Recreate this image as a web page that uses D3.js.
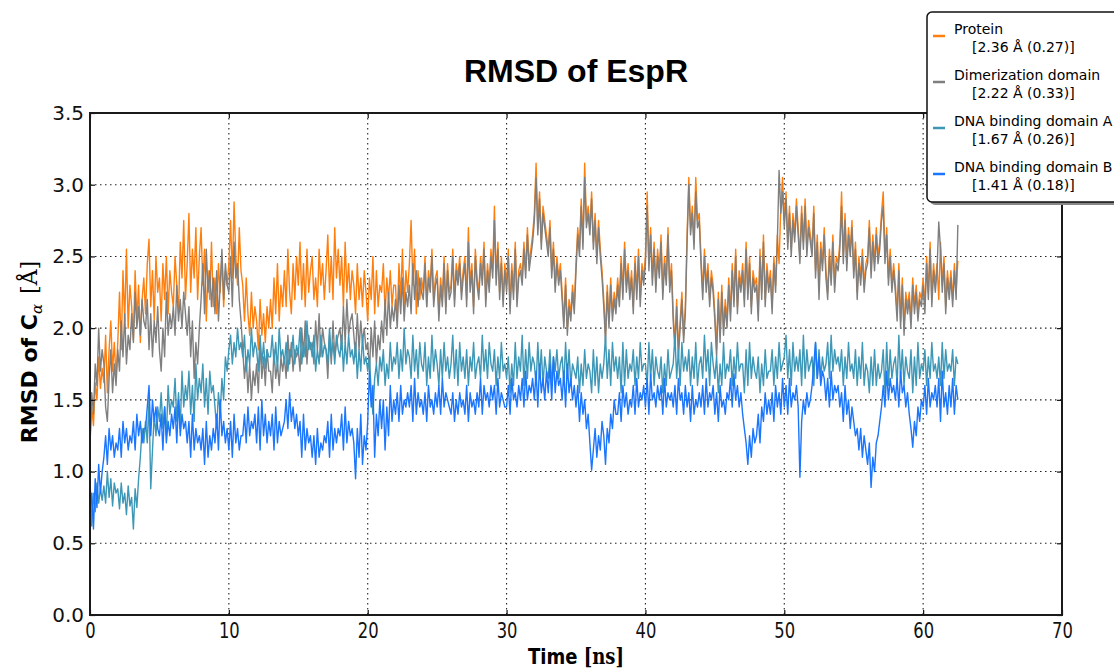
<!DOCTYPE html>
<meta charset="utf-8">
<style>
body { margin: 0; background: #fff; }
.tick text { fill: #111; }
.grid line { stroke: #222; stroke-width: 1.1px; stroke-dasharray: 1.5,3.5; }
.series { fill: none; stroke-width: 1.4px; stroke-linejoin: round; }
</style>
<body>
<script src="https://d3js.org/d3.v7.min.js"></script>
<script>

var timeStep = 0.125;

var protein = [
	1.20, 1.45, 1.32, 1.62, 1.50, 1.80, 1.58, 1.72,
	1.62, 1.95, 1.55, 1.85, 2.05, 1.70, 1.90, 1.65,
	1.90, 2.25, 1.85, 2.40, 2.05, 2.55, 2.00, 2.30,
	2.15, 1.92, 2.40, 2.05, 2.30, 1.90, 2.20, 2.35,
	2.10, 2.45, 2.62, 2.15, 2.40, 2.05, 2.50, 2.25,
	2.35, 2.05, 2.45, 2.20, 2.50, 2.10, 2.40, 2.25,
	2.15, 2.50, 2.30, 2.10, 2.60, 2.35, 2.75, 2.20,
	2.45, 2.80, 2.25, 2.55, 2.35, 2.70, 2.20, 2.50,
	2.70, 2.30, 2.55, 2.05, 2.40, 2.20, 2.60, 2.15,
	2.35, 2.10, 2.45, 2.25, 2.50, 2.15, 2.40, 2.30,
	2.45, 2.75, 2.35, 2.88, 2.50, 2.30, 2.70, 2.40,
	2.30, 2.05, 2.35, 2.10, 1.95, 2.25, 2.00, 2.15,
	2.05, 1.85, 2.20, 1.95, 2.10, 1.90, 2.15, 2.00,
	2.20, 2.00, 2.35, 2.10, 2.45, 2.05, 2.30, 2.15,
	2.40, 2.15, 2.55, 2.25, 2.10, 2.45, 2.20, 2.50,
	2.30, 2.60, 2.20, 2.45, 2.15, 2.55, 2.25, 2.40,
	2.50, 2.20, 2.35, 2.15, 2.55, 2.30, 2.45, 2.20,
	2.40, 2.65, 2.25, 2.50, 2.20, 2.70, 2.35, 2.55,
	2.30, 2.50, 2.15, 2.60, 2.25, 2.45, 2.20, 2.40,
	2.30, 2.10, 2.45, 2.20, 2.35, 2.15, 2.40, 2.25,
	2.05, 2.35, 2.20, 2.50, 2.10, 2.40, 2.15, 2.30,
	2.25, 2.45, 2.10, 2.35, 2.20, 2.40, 2.15, 2.30,
	2.30, 2.05, 2.45, 2.20, 2.55, 2.15, 2.40, 2.25,
	2.45, 2.75, 2.30, 2.55, 2.10, 2.40, 2.20, 2.35,
	2.25, 2.50, 2.15, 2.40, 2.30, 2.55, 2.20, 2.35,
	2.40, 2.10, 2.35, 2.20, 2.50, 2.15, 2.45, 2.25,
	2.30, 2.55, 2.20, 2.45, 2.35, 2.50, 2.25, 2.40,
	2.50, 2.20, 2.70, 2.30, 2.45, 2.15, 2.55, 2.35,
	2.25, 2.50, 2.35, 2.60, 2.20, 2.45, 2.30, 2.55,
	2.40, 2.85, 2.35, 2.60, 2.25, 2.50, 2.20, 2.45,
	2.30, 2.55, 2.15, 2.45, 2.25, 2.60, 2.20, 2.40,
	2.45, 2.35, 2.60, 2.40, 2.70, 2.45, 2.55, 2.65,
	2.80, 3.15, 2.70, 2.95, 2.60, 2.85, 2.75, 2.65,
	2.55, 2.75, 2.40, 2.60, 2.30, 2.50, 2.35, 2.45,
	2.25, 2.05, 2.35, 2.00, 2.20, 2.10, 2.30, 2.15,
	2.45, 2.70, 2.55, 2.90, 2.60, 3.15, 2.75, 2.85,
	2.70, 2.95, 2.60, 2.80, 2.50, 2.75, 2.55, 2.40,
	2.20, 1.95, 2.30, 2.05, 2.35, 2.10, 2.25, 2.15,
	2.35, 2.20, 2.50, 2.25, 2.60, 2.30, 2.45, 2.25,
	2.40, 2.15, 2.50, 2.25, 2.55, 2.20, 2.45, 2.35,
	2.50, 2.95, 2.45, 2.70, 2.35, 2.60, 2.30, 2.55,
	2.40, 2.65, 2.25, 2.50, 2.35, 2.70, 2.30, 2.45,
	2.10, 1.90, 2.20, 1.85, 2.05, 2.25, 1.95, 2.15,
	2.65, 3.05, 2.70, 2.85, 2.60, 3.05, 2.75, 2.80,
	2.50, 2.25, 2.55, 2.30, 2.45, 2.20, 2.40, 2.30,
	2.10, 1.85, 2.25, 1.95, 2.30, 2.00, 2.20, 2.05,
	2.35, 2.10, 2.45, 2.20, 2.55, 2.15, 2.40, 2.30,
	2.45, 2.20, 2.60, 2.25, 2.50, 2.15, 2.40, 2.30,
	2.35, 2.10, 2.55, 2.25, 2.65, 2.20, 2.45, 2.30,
	2.40, 2.15, 2.50, 2.30, 2.65, 2.45, 2.85, 3.05,
	2.75, 2.95, 2.60, 2.85, 2.55, 2.80, 2.65, 2.90,
	2.70, 2.50, 2.85, 2.60, 2.90, 2.55, 2.75, 2.65,
	2.55, 2.85, 2.40, 2.65, 2.30, 2.60, 2.45, 2.70,
	2.40, 2.25, 2.55, 2.35, 2.65, 2.30, 2.50, 2.45,
	2.60, 2.95, 2.50, 2.80, 2.45, 2.70, 2.55, 2.75,
	2.40, 2.60, 2.25, 2.50, 2.35, 2.55, 2.30, 2.45,
	2.50, 2.75, 2.40, 2.65, 2.45, 2.70, 2.50, 2.60,
	2.80, 2.95, 2.50, 2.70, 2.35, 2.55, 2.30, 2.45,
	2.30, 2.10, 2.45, 2.05, 2.35, 2.00, 2.25, 2.15,
	2.25, 2.05, 2.35, 2.15, 2.30, 2.10, 2.25, 2.20,
	2.35, 2.15, 2.50, 2.25, 2.60, 2.20, 2.45, 2.30,
	2.45, 2.20, 2.60, 2.30, 2.50, 2.15, 2.40, 2.25,
	2.40, 2.20, 2.45, 2.25, 2.47
];

var dimerization = [
	1.20, 1.55, 1.40, 1.75, 1.60, 2.00, 1.70, 1.85,
	1.75, 1.45, 1.35, 1.65, 1.85, 1.55, 1.75, 1.60,
	1.85, 1.70, 2.05, 1.80, 2.10, 1.75, 1.95, 1.85,
	2.10, 1.90, 2.25, 2.00, 2.15, 1.95, 2.20, 2.05,
	2.00, 2.20, 1.85, 2.10, 1.80, 2.05, 1.90, 2.15,
	1.85, 1.70, 2.00, 1.80, 2.25, 1.95, 2.10, 2.00,
	2.15, 1.95, 2.30, 2.05, 2.20, 2.00, 2.25, 2.10,
	1.95, 2.15, 1.80, 2.05, 1.65, 1.90, 1.75, 2.00,
	2.20, 2.45, 2.10, 2.55, 2.25, 2.40, 2.15, 2.35,
	2.10, 2.40, 2.05, 2.30, 2.55, 2.20, 2.45, 2.30,
	2.25, 2.50, 2.15, 2.60, 2.35, 2.45, 2.20, 2.05,
	1.85, 1.65, 1.80, 1.55, 1.75, 1.50, 1.70, 1.60,
	1.75, 1.55, 1.90, 1.65, 1.80, 1.60, 1.85, 1.70,
	1.70, 1.55, 1.85, 1.65, 1.75, 1.60, 1.80, 1.70,
	1.80, 1.65, 1.95, 1.75, 1.90, 1.70, 1.85, 1.80,
	1.85, 1.70, 2.00, 1.80, 2.05, 1.75, 1.95, 1.85,
	1.90, 1.75, 2.05, 1.85, 2.10, 1.80, 2.00, 1.90,
	1.85, 1.65, 1.95, 1.75, 2.05, 1.80, 1.90, 1.95,
	2.00, 1.85, 2.15, 1.90, 2.20, 1.95, 2.05, 2.10,
	1.95, 1.80, 2.10, 1.85, 2.05, 1.90, 2.00, 1.85,
	1.90, 1.70, 2.00, 1.80, 2.05, 1.75, 1.95, 1.85,
	2.05, 1.90, 2.20, 1.95, 2.25, 2.00, 2.15, 2.05,
	2.20, 2.00, 2.30, 2.10, 2.35, 2.05, 2.25, 2.15,
	2.30, 2.10, 2.45, 2.20, 2.40, 2.15, 2.35, 2.25,
	2.20, 2.45, 2.15, 2.35, 2.25, 2.50, 2.15, 2.30,
	2.35, 2.05, 2.30, 2.15, 2.45, 2.10, 2.40, 2.20,
	2.25, 2.50, 2.15, 2.40, 2.30, 2.45, 2.20, 2.35,
	2.45, 2.15, 2.60, 2.25, 2.40, 2.10, 2.50, 2.30,
	2.20, 2.45, 2.30, 2.55, 2.15, 2.40, 2.25, 2.50,
	2.35, 2.75, 2.30, 2.55, 2.20, 2.45, 2.15, 2.40,
	2.25, 2.50, 2.10, 2.40, 2.20, 2.55, 2.15, 2.35,
	2.40, 2.30, 2.55, 2.35, 2.65, 2.40, 2.50, 2.60,
	2.75, 3.05, 2.65, 2.90, 2.55, 2.80, 2.70, 2.60,
	2.50, 2.70, 2.35, 2.55, 2.25, 2.45, 2.30, 2.40,
	2.20, 2.00, 2.30, 1.95, 2.15, 2.05, 2.25, 2.10,
	2.40, 2.65, 2.50, 2.85, 2.55, 3.05, 2.70, 2.80,
	2.65, 2.90, 2.55, 2.75, 2.45, 2.70, 2.50, 2.35,
	2.15, 1.90, 2.25, 2.00, 2.30, 2.05, 2.20, 2.10,
	2.30, 2.15, 2.45, 2.20, 2.55, 2.25, 2.40, 2.20,
	2.35, 2.10, 2.45, 2.20, 2.50, 2.15, 2.40, 2.30,
	2.45, 2.85, 2.40, 2.65, 2.30, 2.55, 2.25, 2.50,
	2.35, 2.60, 2.20, 2.45, 2.30, 2.65, 2.25, 2.40,
	2.05, 1.85, 2.15, 1.80, 2.00, 2.20, 1.90, 2.10,
	2.60, 3.00, 2.65, 2.80, 2.55, 2.95, 2.70, 2.75,
	2.45, 2.20, 2.50, 2.25, 2.40, 2.15, 2.35, 2.25,
	2.05, 1.80, 2.20, 1.90, 2.25, 1.95, 2.15, 2.00,
	2.30, 2.05, 2.40, 2.15, 2.50, 2.10, 2.35, 2.25,
	2.40, 2.15, 2.55, 2.20, 2.45, 2.10, 2.35, 2.25,
	2.30, 2.05, 2.50, 2.20, 2.60, 2.15, 2.40, 2.25,
	2.35, 2.10, 2.45, 2.25, 2.60, 3.10, 2.80, 2.95,
	2.70, 2.90, 2.55, 2.80, 2.50, 2.75, 2.60, 2.85,
	2.65, 2.45, 2.80, 2.55, 2.85, 2.50, 2.70, 2.60,
	2.50, 2.80, 2.35, 2.60, 2.20, 2.55, 2.40, 2.65,
	2.35, 2.20, 2.50, 2.30, 2.60, 2.25, 2.45, 2.40,
	2.55, 2.85, 2.45, 2.75, 2.40, 2.65, 2.50, 2.70,
	2.35, 2.55, 2.20, 2.45, 2.30, 2.50, 2.25, 2.40,
	2.45, 2.70, 2.35, 2.60, 2.40, 2.65, 2.45, 2.55,
	2.75, 2.85, 2.45, 2.65, 2.30, 2.50, 2.25, 2.40,
	2.25, 2.05, 2.40, 2.00, 2.30, 1.95, 2.20, 2.10,
	2.20, 2.00, 2.30, 2.10, 2.25, 2.05, 2.20, 2.15,
	2.30, 2.10, 2.45, 2.20, 2.55, 2.15, 2.40, 2.25,
	2.40, 2.74, 2.55, 2.25, 2.45, 2.10, 2.35, 2.20,
	2.35, 2.15, 2.40, 2.20, 2.72
];

var dnaA = [
	0.95, 0.62, 0.85, 0.72, 0.92, 0.78, 0.88, 0.80,
	0.90, 0.78, 1.00, 0.82, 0.95, 0.76, 0.92, 0.85,
	0.88, 0.74, 0.92, 0.78, 0.85, 0.70, 0.90, 0.76,
	0.82, 0.60, 0.88, 0.75, 0.95, 1.10, 1.30, 1.20,
	1.35, 1.20, 1.50, 0.88, 1.15, 1.40, 1.25, 1.45,
	1.35, 1.55, 1.30, 1.45, 1.25, 1.60, 1.40, 1.50,
	1.45, 1.65, 1.35, 1.55, 1.30, 1.70, 1.45, 1.60,
	1.50, 1.70, 1.40, 1.60, 1.35, 1.75, 1.50, 1.65,
	1.55, 1.75, 1.45, 1.65, 1.40, 1.70, 1.55, 1.60,
	1.45, 1.30, 1.55, 1.40, 1.65, 1.50, 1.80, 1.70,
	1.85, 1.95, 1.75, 1.90, 1.80, 2.00, 1.85, 1.90,
	1.80, 1.95, 1.70, 1.85, 1.75, 2.00, 1.80, 1.90,
	1.85, 1.70, 1.95, 1.75, 1.90, 1.72, 1.85, 1.80,
	1.80, 1.95, 1.75, 1.90, 1.70, 2.00, 1.80, 1.85,
	1.75, 1.90, 1.70, 1.85, 1.80, 1.95, 1.75, 1.88,
	1.82, 2.00, 1.75, 1.90, 1.80, 2.05, 1.85, 1.90,
	1.80, 1.95, 1.70, 1.85, 1.75, 1.95, 1.80, 1.88,
	1.85, 1.75, 2.00, 1.80, 1.90, 1.75, 1.95, 1.85,
	1.80, 1.95, 1.70, 1.90, 1.75, 1.95, 1.80, 1.85,
	1.75, 1.90, 1.65, 1.85, 1.70, 1.95, 1.75, 1.80,
	1.70, 1.80, 1.55, 1.40, 1.65, 1.75, 1.60, 1.80,
	1.70, 1.85, 1.60, 1.75, 1.65, 1.90, 1.70, 1.80,
	1.75, 1.90, 1.65, 1.85, 1.70, 2.00, 1.75, 1.85,
	1.80, 1.65, 1.95, 1.70, 1.85, 1.65, 1.90, 1.75,
	1.70, 1.90, 1.60, 1.80, 1.65, 1.95, 1.70, 1.85,
	1.75, 1.60, 1.85, 1.65, 1.90, 1.70, 1.80, 1.65,
	1.75, 1.95, 1.65, 1.85, 1.60, 1.90, 1.70, 1.80,
	1.65, 1.85, 1.60, 1.80, 1.70, 1.90, 1.65, 1.75,
	1.80, 1.65, 1.95, 1.70, 1.85, 1.65, 1.90, 1.75,
	1.70, 1.85, 1.60, 1.80, 1.65, 1.90, 1.70, 1.75,
	1.65, 1.80, 1.55, 1.75, 1.60, 1.90, 1.65, 1.80,
	1.70, 1.95, 1.60, 1.85, 1.65, 1.90, 1.70, 1.80,
	1.75, 1.60, 1.90, 1.65, 1.85, 1.60, 1.80, 1.70,
	1.65, 1.85, 1.60, 1.80, 1.70, 1.85, 1.65, 1.75,
	1.80, 1.60, 1.90, 1.65, 1.85, 1.60, 1.75, 1.70,
	1.65, 1.80, 1.55, 1.75, 1.60, 1.85, 1.65, 1.75,
	1.70, 1.55, 1.85, 1.60, 1.80, 1.55, 1.75, 1.65,
	1.75, 1.95, 1.65, 1.85, 1.60, 1.90, 1.70, 1.80,
	1.65, 1.80, 1.55, 1.90, 1.60, 1.85, 1.65, 1.75,
	1.70, 1.85, 1.60, 1.80, 1.65, 1.90, 1.70, 1.75,
	1.75, 1.60, 1.90, 1.65, 1.85, 1.60, 1.80, 1.70,
	1.65, 1.80, 1.55, 1.75, 1.60, 1.85, 1.65, 1.70,
	1.75, 1.95, 1.65, 1.85, 1.60, 1.90, 1.70, 1.80,
	1.70, 1.85, 1.60, 1.80, 1.65, 1.90, 1.60, 1.75,
	1.80, 1.65, 1.95, 1.70, 1.85, 1.60, 1.90, 1.75,
	1.65, 1.80, 1.55, 1.75, 1.60, 1.90, 1.65, 1.75,
	1.70, 1.85, 1.60, 1.80, 1.65, 1.90, 1.70, 1.75,
	1.75, 1.55, 1.85, 1.60, 1.90, 1.65, 1.80, 1.70,
	1.65, 1.80, 1.55, 1.75, 1.60, 1.85, 1.65, 1.70,
	1.70, 1.85, 1.60, 1.80, 1.65, 1.90, 1.70, 1.75,
	1.80, 1.95, 1.65, 1.85, 1.60, 1.90, 1.70, 1.80,
	1.70, 1.85, 1.60, 1.95, 1.65, 1.85, 1.70, 1.75,
	1.80, 1.60, 1.90, 1.65, 1.85, 1.65, 1.80, 1.70,
	1.75, 1.90, 1.65, 1.95, 1.70, 1.85, 1.75, 1.80,
	1.70, 1.85, 1.60, 1.80, 1.65, 1.90, 1.70, 1.75,
	1.65, 1.85, 1.60, 1.80, 1.65, 1.90, 1.60, 1.75,
	1.70, 1.55, 1.80, 1.60, 1.85, 1.60, 1.75, 1.65,
	1.70, 1.85, 1.55, 1.90, 1.60, 1.85, 1.65, 1.75,
	1.80, 1.60, 1.95, 1.65, 1.85, 1.60, 1.80, 1.70,
	1.65, 1.85, 1.55, 1.80, 1.60, 1.90, 1.65, 1.75,
	1.70, 1.85, 1.60, 1.80, 1.65, 1.90, 1.70, 1.75,
	1.65, 1.80, 1.60, 1.90, 1.65, 1.85, 1.70, 1.75,
	1.70, 1.85, 1.60, 1.80, 1.75
];

var dnaB = [
	0.70, 0.85, 0.60, 0.95, 0.75, 1.05, 0.85, 1.00,
	1.10, 1.25, 1.05, 1.30, 1.15, 1.25, 1.10, 1.20,
	1.15, 1.30, 1.10, 1.35, 1.20, 1.30, 1.15, 1.25,
	1.20, 1.35, 1.15, 1.40, 1.25, 1.35, 1.20, 1.30,
	1.30, 1.45, 1.60, 1.25, 1.50, 1.35, 1.45, 1.30,
	1.25, 1.40, 1.15, 1.45, 1.20, 1.35, 1.25, 1.40,
	1.30, 1.45, 1.20, 1.50, 1.25, 1.40, 1.30, 1.35,
	1.20, 1.35, 1.10, 1.40, 1.15, 1.30, 1.20, 1.25,
	1.15, 1.30, 1.05, 1.35, 1.10, 1.25, 1.15, 1.30,
	1.20, 1.40, 1.15, 1.50, 1.25, 1.35, 1.20, 1.30,
	1.15, 1.35, 1.10, 1.40, 1.20, 1.30, 1.15, 1.25,
	1.25, 1.40, 1.20, 1.45, 1.25, 1.35, 1.30, 1.40,
	1.20, 1.45, 1.15, 1.50, 1.25, 1.40, 1.20, 1.35,
	1.25, 1.40, 1.15, 1.45, 1.20, 1.35, 1.25, 1.30,
	1.35, 1.50, 1.30, 1.55, 1.35, 1.45, 1.30, 1.40,
	1.25, 1.35, 1.10, 1.40, 1.15, 1.30, 1.20, 1.25,
	1.10, 1.25, 1.05, 1.30, 1.10, 1.20, 1.15, 1.25,
	1.20, 1.35, 1.10, 1.40, 1.15, 1.30, 1.20, 1.30,
	1.25, 1.40, 1.15, 1.45, 1.20, 1.35, 1.25, 1.30,
	1.20, 0.95, 1.30, 1.10, 1.40, 1.05, 1.25, 1.15,
	1.35, 1.70, 1.45, 1.60, 1.10, 1.40, 1.25, 1.50,
	1.30, 1.50, 1.15, 1.45, 1.25, 1.60, 1.35, 1.50,
	1.40, 1.55, 1.35, 1.60, 1.40, 1.50, 1.45, 1.55,
	1.45, 1.60, 1.35, 1.65, 1.40, 1.55, 1.45, 1.50,
	1.40, 1.55, 1.35, 1.60, 1.45, 1.50, 1.40, 1.55,
	1.45, 1.60, 1.40, 1.65, 1.45, 1.55, 1.50, 1.45,
	1.40, 1.55, 1.35, 1.50, 1.40, 1.55, 1.45, 1.50,
	1.40, 1.60, 1.35, 1.55, 1.45, 1.50, 1.40, 1.55,
	1.45, 1.65, 1.40, 1.60, 1.50, 1.55, 1.45, 1.60,
	1.50, 1.60, 1.40, 1.65, 1.45, 1.55, 1.50, 1.45,
	1.45, 1.60, 1.40, 1.65, 1.50, 1.55, 1.45, 1.60,
	1.50, 1.65, 1.45, 1.70, 1.50, 1.60, 1.55, 1.65,
	1.50, 1.70, 1.45, 1.75, 1.55, 1.65, 1.50, 1.70,
	1.55, 1.75, 1.50, 1.80, 1.55, 1.70, 1.60, 1.65,
	1.50, 1.70, 1.45, 1.75, 1.55, 1.65, 1.50, 1.60,
	1.45, 1.60, 1.35, 1.55, 1.40, 1.50, 1.30, 1.40,
	1.20, 1.01, 1.15, 1.30, 1.10, 1.25, 1.15, 1.35,
	1.25, 1.05, 1.30, 1.20, 1.40, 1.30, 1.50, 1.40,
	1.40, 1.55, 1.35, 1.60, 1.45, 1.55, 1.40, 1.50,
	1.45, 1.60, 1.40, 1.65, 1.45, 1.55, 1.50, 1.60,
	1.45, 1.65, 1.40, 1.68, 1.50, 1.55, 1.45, 1.60,
	1.50, 1.60, 1.40, 1.65, 1.45, 1.55, 1.50, 1.55,
	1.45, 1.60, 1.40, 1.65, 1.50, 1.55, 1.40, 1.60,
	1.45, 1.55, 1.35, 1.60, 1.40, 1.50, 1.45, 1.55,
	1.45, 1.60, 1.40, 1.65, 1.45, 1.55, 1.50, 1.60,
	1.40, 1.55, 1.35, 1.60, 1.45, 1.50, 1.40, 1.55,
	1.50, 1.65, 1.45, 1.68, 1.50, 1.60, 1.45, 1.55,
	1.40, 1.30, 1.20, 1.05, 1.25, 1.10, 1.30, 1.20,
	1.25, 1.40, 1.20, 1.45, 1.35, 1.55, 1.40, 1.50,
	1.40, 1.55, 1.35, 1.60, 1.45, 1.55, 1.40, 1.65,
	1.45, 1.60, 1.40, 1.65, 1.45, 1.55, 1.50, 1.60,
	1.45, 0.96, 1.35, 1.50, 1.40, 1.55, 1.45, 1.50,
	1.60, 1.75, 1.90, 1.65, 1.80, 1.60, 1.70, 1.65,
	1.50, 1.65, 1.45, 1.70, 1.50, 1.60, 1.55, 1.60,
	1.45, 1.55, 1.35, 1.60, 1.40, 1.50, 1.30, 1.45,
	1.35, 1.25, 1.30, 1.15, 1.30, 1.10, 1.25, 1.15,
	1.05, 1.20, 0.89, 1.10, 1.00, 1.20, 1.25, 1.35,
	1.45, 1.60, 1.45, 1.70, 1.50, 1.65, 1.55, 1.60,
	1.50, 1.65, 1.45, 1.70, 1.55, 1.60, 1.45, 1.55,
	1.40, 1.30, 1.17, 1.35, 1.25, 1.45, 1.35, 1.50,
	1.45, 1.60, 1.40, 1.65, 1.45, 1.55, 1.50, 1.60,
	1.45, 1.65, 1.35, 1.70, 1.45, 1.55, 1.40, 1.60,
	1.45, 1.65, 1.40, 1.60, 1.50
];

var seriesNames = ["Protein", "Dimerization domain", "DNA binding domain A", "DNA binding domain B"];
var seriesStats = ["[2.36 Å (0.27)]", "[2.22 Å (0.33)]", "[1.67 Å (0.26)]", "[1.41 Å (0.18)]"];
var seriesColors = ["#ff7f0e", "#7f7f7f", "#3d97b6", "#1a75ff"];
var seriesValues = [protein, dimerization, dnaA, dnaB];

var xTicks = [0, 10, 20, 30, 40, 50, 60, 70];
var yTicks = [0.0, 0.5, 1.0, 1.5, 2.0, 2.5, 3.0, 3.5];

// plot box (window.top is taken, so own names)
var W = 1114, H = 669;
var plotL = 90, plotR = 1062, plotT = 113, plotB = 615;

var svg = d3.select("body").append("svg")
	.attr("width", W)
	.attr("height", H);

var x = d3.scaleLinear().domain([0, 70]).range([plotL, plotR]);
var y = d3.scaleLinear().domain([0, 3.5]).range([plotB, plotT]);

// dotted grid
var grid = svg.append("g").attr("class", "grid");
grid.selectAll(".gx")
	.data(xTicks.slice(1, -1))
	.enter().append("line")
		.attr("x1", function(d) { return x(d); })
		.attr("x2", function(d) { return x(d); })
		.attr("y1", plotT)
		.attr("y2", plotB);
grid.selectAll(".gy")
	.data(yTicks.slice(1, -1))
	.enter().append("line")
		.attr("x1", plotL)
		.attr("x2", plotR)
		.attr("y1", function(d) { return y(d); })
		.attr("y2", function(d) { return y(d); });

// the four traces
var line = d3.line()
	.x(function(d, i) { return x(i * timeStep); })
	.y(function(d) { return y(d); });

svg.selectAll(".series")
	.data(seriesValues)
	.enter().append("path")
		.attr("class", "series")
		.attr("stroke", function(d, i) { return seriesColors[i]; })
		.attr("d", line);

// axes, ticks pointing inward
var tickFont = "'DejaVu Sans', sans-serif";

var gx = svg.append("g")
	.attr("transform", "translate(0," + plotB + ")")
	.call(d3.axisBottom(x).tickValues(xTicks).tickSizeInner(-5).tickSizeOuter(0).tickPadding(8)
		.tickFormat(d3.format("d")));
gx.selectAll("text")
	.style("font-family", tickFont)
	.style("font-size", "21px")
	.attr("transform", "scale(0.78,1)");

var gy = svg.append("g")
	.attr("transform", "translate(" + plotL + ",0)")
	.call(d3.axisLeft(y).tickValues(yTicks).tickSizeInner(-5).tickSizeOuter(0).tickPadding(6)
		.tickFormat(d3.format(".1f")));
gy.selectAll("text")
	.style("font-family", tickFont)
	.style("font-size", "20px");

svg.append("g")
	.attr("transform", "translate(0," + plotT + ")")
	.call(d3.axisTop(x).tickValues(xTicks).tickSizeInner(-5).tickSizeOuter(0).tickFormat(""));
svg.append("g")
	.attr("transform", "translate(" + plotR + ",0)")
	.call(d3.axisRight(y).tickValues(yTicks).tickSizeInner(-5).tickSizeOuter(0).tickFormat(""));

svg.selectAll(".domain").remove();
svg.selectAll(".tick line").attr("stroke", "#111").attr("stroke-width", 1.2);

// frame
svg.append("rect")
	.attr("x", plotL)
	.attr("y", plotT)
	.attr("width", plotR - plotL)
	.attr("height", plotB - plotT)
	.attr("fill", "none")
	.attr("stroke", "#1a1a1a")
	.attr("stroke-width", 2);

// title
svg.append("text")
	.attr("x", (plotL + plotR) / 2)
	.attr("y", 82)
	.attr("text-anchor", "middle")
	.style("font-family", "'Liberation Sans', Arial, sans-serif")
	.style("font-weight", "bold")
	.style("font-size", "32px")
	.text("RMSD of EspR");

// x label, squeezed like the tick labels
var xl = svg.append("text")
	.attr("transform", "translate(" + ((plotL + plotR) / 2) + ",664) scale(0.82,1)")
	.attr("text-anchor", "middle")
	.style("font-size", "22px");
xl.append("tspan")
	.style("font-family", tickFont)
	.style("font-weight", "bold")
	.text("Time ");
xl.append("tspan")
	.style("font-family", "'DejaVu Serif', serif")
	.style("font-weight", "bold")
	.text("[ns]");

// y label
var yl = svg.append("text")
	.attr("transform", "translate(37,352) rotate(-90)")
	.attr("text-anchor", "middle")
	.style("font-size", "22px");
yl.append("tspan")
	.style("font-family", tickFont)
	.style("font-weight", "bold")
	.text("RMSD of C");
yl.append("tspan")
	.attr("dy", 5)
	.style("font-family", "'DejaVu Serif', serif")
	.style("font-style", "italic")
	.style("font-size", "15px")
	.text("α");
yl.append("tspan")
	.attr("dy", -5)
	.attr("dx", 10)
	.style("font-family", "'DejaVu Serif', serif")
	.text("[Å]");

// legend box with shadow
var lg = svg.append("g").attr("transform", "translate(927,12)");
lg.append("rect")
	.attr("x", 3).attr("y", 3)
	.attr("width", 220).attr("height", 190)
	.attr("rx", 5)
	.attr("fill", "#888");
lg.append("rect")
	.attr("width", 220).attr("height", 190)
	.attr("rx", 5)
	.attr("fill", "#fff")
	.attr("stroke", "#111")
	.attr("stroke-width", 1.5);

var entry = lg.selectAll(".entry")
	.data(seriesNames)
	.enter().append("g")
		.attr("transform", function(d, i) { return "translate(0," + (22 + i * 46) + ")"; });
entry.append("line")
	.attr("x1", 6).attr("x2", 18)
	.attr("y1", 2).attr("y2", 2)
	.attr("stroke", function(d, i) { return seriesColors[i]; })
	.attr("stroke-width", 2.5);
entry.append("text")
	.attr("x", 27)
	.attr("y", 0)
	.style("font-family", tickFont)
	.style("font-size", "14px")
	.text(function(d) { return d; });
entry.append("text")
	.attr("x", 45)
	.attr("y", 18)
	.style("font-family", tickFont)
	.style("font-size", "14px")
	.text(function(d, i) { return seriesStats[i]; });

</script>
</body>
